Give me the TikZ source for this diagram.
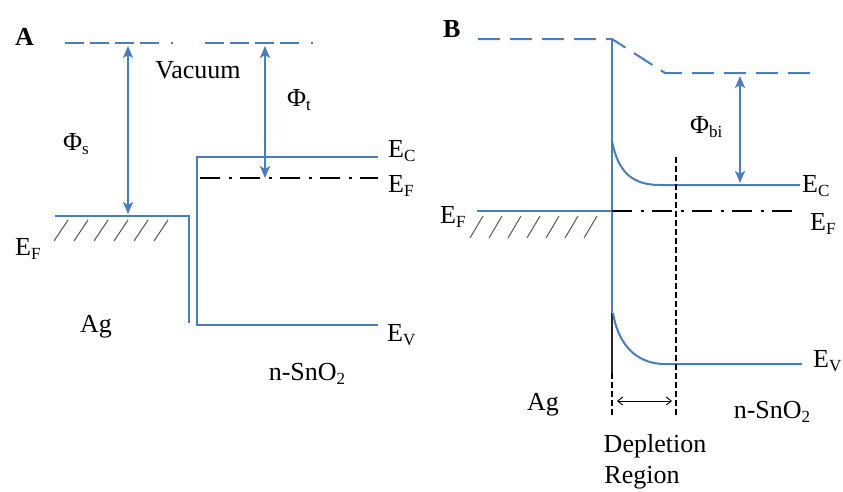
\documentclass[tikz,border=0pt]{standalone}
\usepackage{fontspec}
\setmainfont{Liberation Serif}
\usetikzlibrary{arrows.meta}
\definecolor{bandblue}{RGB}{74,124,192}
\newcommand{\lowsub}[1]{\raisebox{-0.35ex}{\fontsize{17}{20}\selectfont #1}}
\begin{document}
\begin{tikzpicture}[x=1pt,y=-1pt,
  band/.style={bandblue,line width=2.2pt},
  vacA/.style={bandblue,line width=1.8pt,dash pattern=on 19pt off 6pt on 19pt off 6pt on 19pt off 6pt on 19pt off 12pt on 2pt off 32pt},
  vacB/.style={bandblue,line width=2pt,dash pattern=on 22pt off 10pt},
  fermi/.style={black,line width=2pt,dash pattern=on 20pt off 9pt on 3pt off 8pt},
  deplete/.style={black,line width=1.8pt,dash pattern=on 6pt off 3pt},
  gaparrow/.style={bandblue,line width=2pt,{Stealth[length=12pt,width=10pt,inset=3pt]}-{Stealth[length=12pt,width=10pt,inset=3pt]}},
  widtharrow/.style={black,line width=0.9pt,{Straight Barb[length=5pt,width=8pt]}-{Straight Barb[length=5pt,width=8pt]}},
  hatch/.style={black!65,line width=1pt},
  lbl/.style={font=\fontsize{26}{31}\selectfont,inner sep=0pt,anchor=base west},
  lblc/.style={font=\fontsize{26}{31}\selectfont,inner sep=0pt,anchor=base,align=center},
  panel/.style={font=\fontsize{26}{31}\selectfont\bfseries,inner sep=0pt,anchor=base west},
]
\useasboundingbox (0,0) rectangle (843,491);

% ---------------- Panel A ----------------
\node[panel] (labA) at (15,45) {A};
\coordinate (vacAL) at (65,43);
\coordinate (vacAR) at (330,43);
\draw[vacA] (vacAL) -- (vacAR);

% Ag metal
\coordinate (agL) at (55,216);
\coordinate (agR) at (189,216);
\coordinate (agB) at (189,323);
\draw[band] (agL) -- (agR) -- (agB);
\foreach \x in {68,88,108,128,148,168}
  \draw[hatch] (\x-14,241) -- (\x,220);

% n-SnO2
\coordinate (ecA) at (378,157);
\coordinate (ecAc) at (197,157);
\coordinate (evAc) at (197,325);
\coordinate (evA) at (378,325);
\draw[band] (ecA) -- (ecAc) -- (evAc) -- (evA);
\coordinate (efAL) at (200,178);
\coordinate (efAR) at (378,178);
\draw[fermi] (efAL) -- (efAR);

% work function arrows
\coordinate (phisT) at (128,46);
\coordinate (phisB) at (128,214);
\draw[gaparrow] (phisT) -- (phisB);
\coordinate (phitT) at (265,46);
\coordinate (phitB) at (265,178);
\draw[gaparrow] (phitT) -- (phitB);

\node[lblc] (vacuum) at (198,78) {Vacuum};
\node[lbl] (phis) at (63,150) {Φ\lowsub{s}};
\node[lbl] (phit) at (287,106) {Φ\lowsub{t}};
\node[lbl] (ecAlab) at (388,157) {E\lowsub{C}};
\node[lbl] (efAlab) at (388,192) {E\lowsub{F}};
\node[lbl] (efAleft) at (15,255) {E\lowsub{F}};
\node[lbl] (evAlab) at (387,341) {E\lowsub{V}};
\node[lblc] (agA) at (96,332) {Ag};
\node[lblc] (snA) at (307,380) {n-SnO\lowsub{2}};

% ---------------- Panel B ----------------
\node[panel] (labB) at (443,37) {B};
\coordinate (vacBL) at (478,39);
\coordinate (vacBk) at (612,39);
\coordinate (vacBk2) at (665,73);
\coordinate (vacBR) at (810,73);
\draw[vacB] (vacBL) -- (vacBk) -- (vacBk2) -- (vacBR);

% interface
\coordinate (ifT) at (612,39);
\coordinate (ifM) at (612,313);
\coordinate (ifS) at (612,373);
\coordinate (ifB) at (612,417);
\draw[band] (ifT) -- (ifM);
\draw[black!85,line width=1.8pt] (ifM) -- (ifS);
\draw[deplete] (ifS) -- (ifB);

% conduction band
\coordinate (ecBs) at (612,141);
\coordinate (ecBk) at (660,185);
\coordinate (ecBR) at (800,185);
\draw[band,line width=2pt] (ecBs) .. controls (618,172) and (632,185) .. (ecBk) -- (ecBR);

% valence band
\coordinate (evBs) at (613,313);
\coordinate (evBk) at (665,364);
\coordinate (evBR) at (802,364);
\draw[band,line width=2pt] (evBs) .. controls (618,344) and (636,364) .. (evBk) -- (evBR);

% Fermi level
\coordinate (efBL) at (477,211);
\coordinate (efBm) at (612,211);
\coordinate (efBR) at (795,211);
\draw[band] (efBL) -- (efBm);
\draw[fermi] (efBm) -- (efBR);
\foreach \x in {483,502,521,540,559,578,597}
  \draw[hatch] (\x-13,238) -- (\x,216);

% depletion edge
\coordinate (depT) at (676,157);
\coordinate (depB) at (676,417);
\draw[deplete] (depT) -- (depB);

% built-in potential
\coordinate (phibT) at (740,76);
\coordinate (phibB) at (740,183);
\draw[gaparrow] (phibT) -- (phibB);

% depletion width arrow
\coordinate (dwL) at (617,401);
\coordinate (dwR) at (672,401);
\draw[widtharrow] (dwL) -- (dwR);

\node[lbl] (phibi) at (690,133) {Φ\lowsub{bi}};
\node[lbl] (ecBlab) at (802,192) {E\lowsub{C}};
\node[lbl] (efBlab) at (810,230) {E\lowsub{F}};
\node[lbl] (efBleft) at (440,223) {E\lowsub{F}};
\node[lbl] (evBlab) at (813,367) {E\lowsub{V}};
\node[lblc] (agB) at (543,410) {Ag};
\node[lblc] (snB) at (772,418) {n-SnO\lowsub{2}};
\node[lblc] (depl) at (655,452) {Depletion};
\node[lblc] (regn) at (642,483) {Region};
\end{tikzpicture}
\end{document}
